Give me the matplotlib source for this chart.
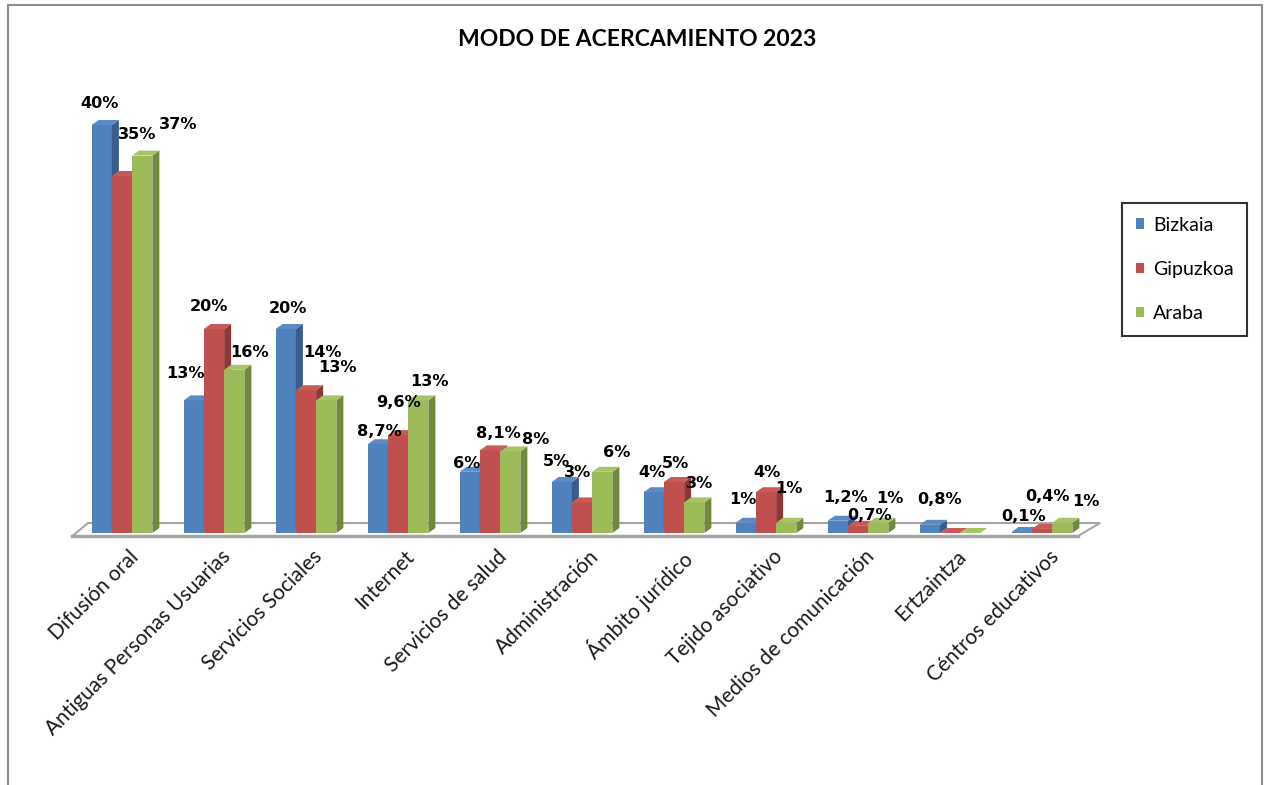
import matplotlib.pyplot as plt
from matplotlib.patches import Polygon, Rectangle, Patch
import numpy as np

# MODO DE ACERCAMIENTO 2023 - barras "3D" al estilo Excel

categorias = ['Difusión oral', 'Antiguas Personas Usuarias', 'Servicios Sociales',
              'Internet', 'Servicios de salud', 'Administración', 'Ámbito jurídico',
              'Tejido asociativo', 'Medios de comunicación', 'Ertzaintza',
              'Céntros educativos']
bizkaia = [40, 13, 20, 8.7, 6, 5, 4, 1, 1.2, 0.8, 0.1]
gipuzkoa = [35, 20, 14, 9.6, 8.1, 3, 5, 4, 0.7, 0, 0.4]
araba = [37, 16, 13, 13, 8, 6, 3, 1, 1, 0, 1]
series = ['Bizkaia', 'Gipuzkoa', 'Araba']

frente = ['#4F81BD', '#C0504D', '#9BBB59']
lado = ['#385D8A', '#8C3836', '#71893F']
tapa = ['#5A8BC6', '#C95A57', '#A5C466']

# colocación de las etiquetas (px respecto al centro de la cara superior)
pos_etiquetas = [
    [(-2, 21), (-8, 27), (2, 20), (2, 13), (-3, 8), (-5, 21), (-2, 20), (-3, 23), (8, 23), (10, 25), (2, 15)],
    [(15, 41), (-5, 22), (16, 38), (0, 33), (8, 17), (-4, 30), (1, 19), (1, 20), (12, 10), (0, 0), (5, 32)],
    [(36, 31), (15, 17), (11, 33), (11, 19), (25, 12), (14, 19), (5, 19), (3, 34), (12, 24), (0, 0), (24, 21)],
]


def etiqueta(v):
    if v == int(v):
        return f'{int(v)}%'
    return f'{v:.1f}'.replace('.', ',') + '%'


W, H = 1269, 785
fig = plt.figure(figsize=(W / 100, H / 100), dpi=100)
ax = fig.add_axes([60 / W, (H - 545) / H, 1050 / W, 455 / H])

# escala: 92 px por grupo, 10.2 px por punto porcentual
ax.set_xlim(-0.674, 10.739)
ax.set_ylim(-1.176, 43.43)
dx, dy = 7 / 92, 5 / 10.2
w = 0.22

# suelo
suelo = Polygon([(-0.54, -0.3), (10.39, -0.3), (10.63, 0.98), (-0.37, 0.98)],
                closed=True, facecolor='white', edgecolor='#A6A6A6', lw=1.5, zorder=1)
ax.add_patch(suelo)
ax.plot([-0.54, 10.39], [-0.3, -0.3], color='#A6A6A6', lw=2.5, zorder=1)

x = np.arange(len(categorias))
for k, vals in enumerate([bizkaia, gipuzkoa, araba]):
    xl = x - 1.5 * w + k * w
    ax.bar(xl, vals, width=w, align='edge', color=frente[k], zorder=3 + k, lw=0)
    for xi, h in zip(xl, vals):
        ax.add_patch(Polygon([(xi + w, 0), (xi + w + dx, dy), (xi + w + dx, h + dy), (xi + w, h)],
                             closed=True, facecolor=lado[k], lw=0, zorder=3 + k))
        ax.add_patch(Polygon([(xi, h), (xi + dx, h + dy), (xi + w + dx, h + dy), (xi + w, h)],
                             closed=True, facecolor=tapa[k], lw=0, zorder=3 + k))
    for i, (xi, h) in enumerate(zip(xl, vals)):
        if h == 0:
            continue
        ox, oy = pos_etiquetas[k][i]
        ax.annotate(etiqueta(h), (xi + w / 2, h), xytext=(ox * 0.72, oy * 0.72),
                    textcoords='offset points', ha='center', va='center',
                    fontsize=11.6, fontweight='bold', family='DejaVu Sans', color='black', zorder=10)

ax.set_xticks(x + 0.07)
ax.set_xticklabels(categorias, rotation=45, ha='right', rotation_mode='anchor',
                   fontsize=15, family='Lato', color='#1a1a1a')
ax.tick_params(axis='x', length=0, pad=1)
ax.set_yticks([])
for s in ax.spines.values():
    s.set_visible(False)

fig.text(637 / W, 1 - 40 / H, 'MODO DE ACERCAMIENTO 2023', ha='center', va='center',
         fontsize=16.5, fontweight='bold', family='Lato', color='black')

handles = [Patch(facecolor=c, edgecolor='none') for c in frente]
leg = fig.legend(handles, series, loc='upper left', bbox_to_anchor=(1122 / W, 1 - 203 / H),
                 frameon=True, fancybox=False, edgecolor='black',
                 prop={'family': 'Lato', 'size': 14},
                 handlelength=0.45, handleheight=0.45, handletextpad=0.45,
                 labelspacing=1.4, borderpad=0.7, borderaxespad=0)
leg.get_frame().set_linewidth(1.5)

# marco exterior
fig.patches.append(Rectangle((8 / W, -0.05), (1262 - 8) / W, 1 - 5 / H + 0.05,
                             transform=fig.transFigure, fill=False, edgecolor='#8C8C8C', lw=1.5))

fig.savefig('out.png', dpi=100)
